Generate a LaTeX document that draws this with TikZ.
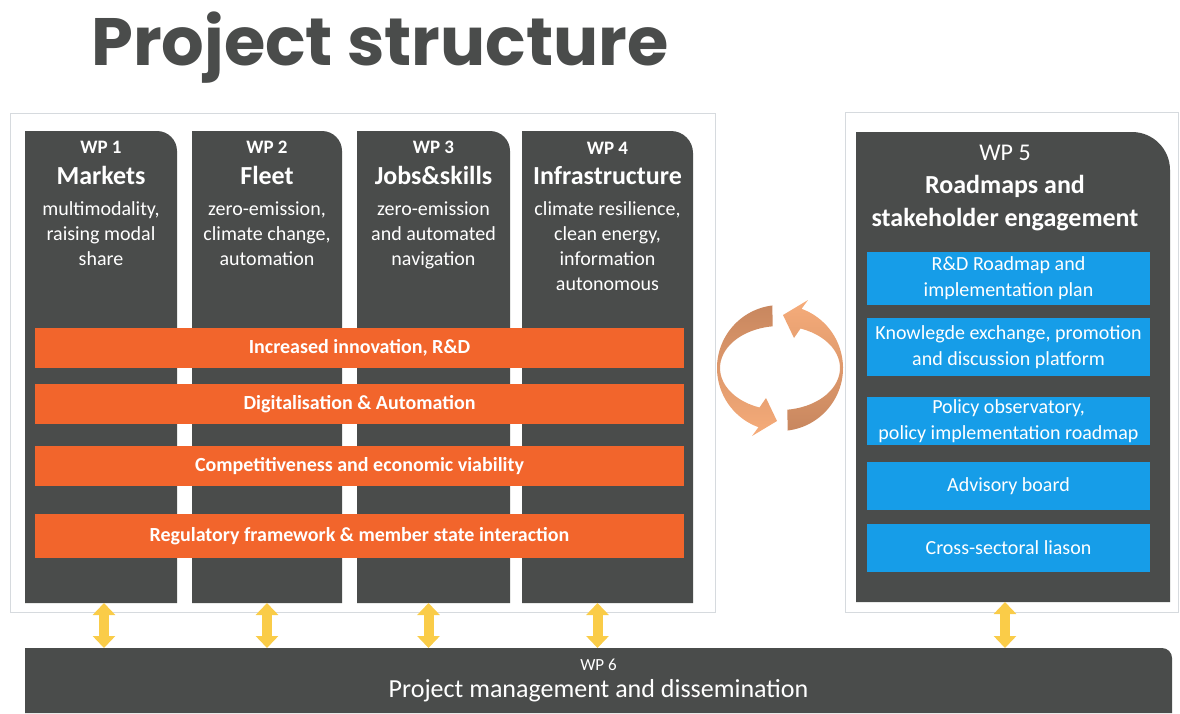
\documentclass[tikz,border=0pt]{standalone}
\usepackage{fontspec}
\setmainfont{Carlito}
\newfontfamily\titlefont{Poppins}
\usepackage{tikz}
\usetikzlibrary{positioning, calc, backgrounds, arrows.meta}
\definecolor{wpdark}{RGB}{74,76,75}
\definecolor{wporange}{RGB}{242,101,44}
\definecolor{wpblue}{RGB}{22,157,232}
\definecolor{wpyellow}{RGB}{250,204,72}
\definecolor{framegray}{RGB}{214,218,222}
\definecolor{cycdark}{RGB}{200,135,95}
\definecolor{cyclight}{RGB}{246,172,122}
\tikzstyle{wpcol} = [rectangle,
minimum width=152pt,
minimum height=472pt,
inner sep=0pt, outer sep=0pt,
anchor=north west]
\tikzstyle{wptext} = [text=white,
align=center,
anchor=north,
inner sep=0pt,
font=\fontsize{20}{25}\selectfont]
\tikzstyle{topic} = [rectangle,
minimum width=649pt,
minimum height=40pt,
inner sep=0pt, outer sep=0pt,
fill=wporange,
text=white,
font=\fontsize{20}{22}\selectfont\bfseries]
\tikzstyle{task} = [rectangle,
minimum width=283pt,
minimum height=48pt,
inner sep=0pt, outer sep=0pt,
align=center,
fill=wpblue,
text=white,
font=\fontsize{20}{26}\selectfont]
\tikzstyle{wpframe} = [draw=framegray, line width=1pt]
\tikzstyle{wplink} = [line width=10pt, draw=wpyellow,
{Triangle[length=12pt,width=22pt]}-{Triangle[length=12pt,width=22pt]}]
% dark box with one rounded corner (top right)
\newcommand{\wpfill}[2]{\fill[wpdark] (#1.south west) -- (#1.north west) -- ([xshift=-#2]#1.north east) arc[start angle=90, end angle=0, radius=#2] -- (#1.south east) -- cycle;}

\begin{document}
\begin{tikzpicture}[x=1pt, y=1pt]
        \useasboundingbox (0,0) rectangle (1180,-713);
        \node (title) [anchor=base west, inner sep=0pt, text=wpdark, font=\titlefont\fontsize{67}{67}\selectfont\bfseries] at (91,-65) {Project structure};

        \node (wp1) [wpcol] at (25,-131) {};
        \node (wp2) [wpcol, right=15pt of wp1, minimum width=150pt] {};
        \node (wp3) [wpcol, right=15pt of wp2, minimum width=153pt] {};
        \node (wp4) [wpcol, right=12pt of wp3, minimum width=171pt] {};
        \node (wp5) [wpcol, minimum width=314pt, minimum height=470pt] at (856,-132) {};
        \node (wp6) [wpcol, minimum width=1147pt, minimum height=65pt, text=white, align=center, font=\fontsize{26}{27}\selectfont] at (25,-648) {{\fontsize{17}{27}\selectfont WP 6}\\Project management and dissemination};

        \begin{scope}[on background layer]
            \draw [wpframe] ($(wp1.north west)+(-15,18)$) rectangle ($(wp4.south east)+(22,-9)$);
            \draw [wpframe] ($(wp5.north west)+(-11,20)$) rectangle ($(wp5.south east)+(8,-10)$);
            \wpfill{wp1}{20pt}
            \wpfill{wp2}{20pt}
            \wpfill{wp3}{20pt}
            \wpfill{wp4}{22pt}
            \wpfill{wp5}{38pt}
            \wpfill{wp6}{10pt}
        \end{scope}

        \node (wp1txt) [wptext, below=10pt of wp1.north] {{\fontsize{19}{25}\selectfont\bfseries WP 1}\\[6pt]{\fontsize{26}{25}\selectfont\bfseries Markets}\\[6pt]multimodality,\\raising modal\\share};
        \node (wp2txt) [wptext, below=10pt of wp2.north] {{\fontsize{19}{25}\selectfont\bfseries WP 2}\\[6pt]{\fontsize{26}{25}\selectfont\bfseries Fleet}\\[6pt]zero-emission,\\climate change,\\automation};
        \node (wp3txt) [wptext, below=10pt of wp3.north] {{\fontsize{19}{25}\selectfont\bfseries WP 3}\\[6pt]{\fontsize{26}{25}\selectfont\bfseries Jobs\&skills}\\[6pt]zero-emission\\and automated\\navigation};
        \node (wp4txt) [wptext, below=11pt of wp4.north] {{\fontsize{19}{25}\selectfont\bfseries WP 4}\\[5pt]{\fontsize{26}{25}\selectfont\bfseries Infrastructure}\\[6pt]climate resilience,\\clean energy,\\information\\autonomous};

        \node (topic1) [topic, anchor=north west] at (35,-328) {Increased innovation, R\&D};
        \node (topic2) [topic, below=16pt of topic1] {Digitalisation \& Automation};
        \node (topic3) [topic, below=22pt of topic2] {Competitiveness and economic viability};
        \node (topic4) [topic, below=28pt of topic3, minimum height=44pt] {Regulatory framework \& member state interaction};

        \node (wp5txt) [wptext, below=13pt of wp5.north, xshift=-8pt, font=\fontsize{26}{33}\selectfont] {{\fontsize{24}{33}\selectfont WP 5}\\\textbf{Roadmaps and}\\\textbf{stakeholder engagement}};
        \node (task1) [task, anchor=north, minimum height=53pt] at (1008.5,-252) {R\&D Roadmap and\\implementation plan};
        \node (task2) [task, below=13pt of task1, minimum height=58pt] {Knowlegde exchange, promotion\\and discussion platform};
        \node (task3) [task, below=21pt of task2] {Policy observatory,\\policy implementation roadmap};
        \node (task4) [task, below=17pt of task3] {Advisory board};
        \node (task5) [task, below=14pt of task4] {Cross-sectoral liason};

        % cycle between the two blocks
        \begin{scope}[shift={(780,-368)}]
            \shade [top color=cycdark, bottom color=cyclight] (97:63) arc[start angle=97, end angle=250, radius=63] -- (-28,-68) -- (-3,-53) -- (-14,-30) -- (250:60 and 42) arc[start angle=250, end angle=97, x radius=60, y radius=42] -- cycle;
            \shade [top color=cyclight, bottom color=cycdark] (277:63) arc[start angle=277, end angle=430, radius=63] -- (28,68) -- (3,53) -- (14,30) -- (70:60 and 42) arc[start angle=70, end angle=-83, x radius=60, y radius=42] -- cycle;
        \end{scope}

        \foreach \wp/\dx in {wp1/3, wp2/0, wp3/-5, wp4/-10, wp5/-8}
            \draw [wplink] ($(\wp.south)+(\dx,0)$) -- ($(\wp.south |- wp6.north)+(\dx,0)$);
    \end{tikzpicture}
\end{document}
